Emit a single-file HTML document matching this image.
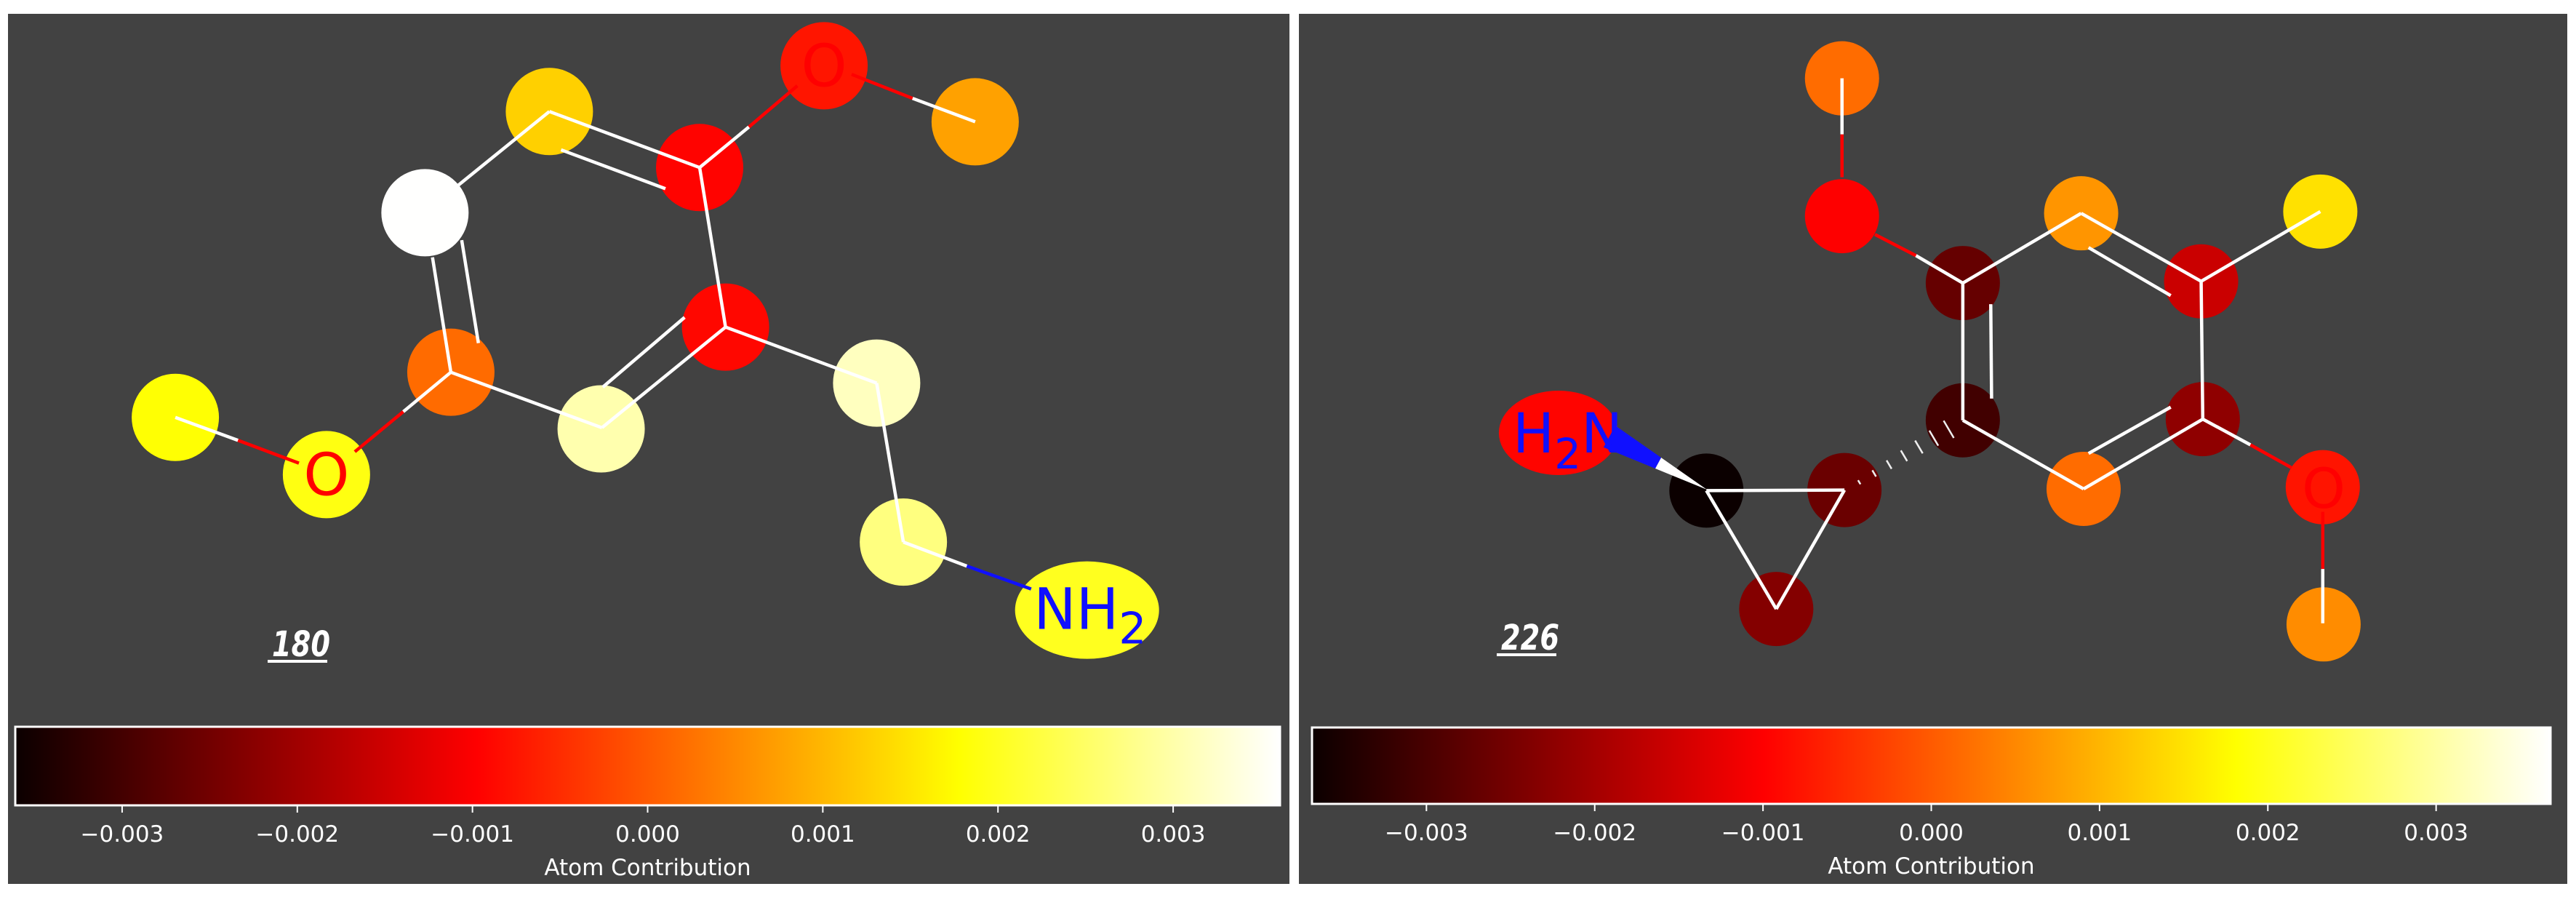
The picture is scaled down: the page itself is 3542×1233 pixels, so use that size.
<!DOCTYPE html>
<html><head><meta charset="utf-8"><style>
html,body{margin:0;padding:0;background:#fff;}
svg{display:block;}
text{font-family:"DejaVu Sans","Liberation Sans",sans-serif;}
</style></head><body>
<svg id="root" width="3542" height="1233" viewBox="0 0 3542 1233" xmlns="http://www.w3.org/2000/svg">
<defs>
<linearGradient id="hot" x1="0" x2="1" y1="0" y2="0">
<stop offset="0" stop-color="#0b0000"/><stop offset="0.365" stop-color="#ff0000"/>
<stop offset="0.746" stop-color="#ffff00"/><stop offset="1" stop-color="#ffffff"/>
</linearGradient>
</defs>
<rect x="11" y="19" width="1762" height="1196" fill="#424242"/>
<rect x="1786" y="19" width="1744" height="1196" fill="#424242"/>
<g id="gL"></g>
<g id="gR"></g>
</svg>
<script>
// ---- data: atom contribution values ----
const leftValues = [0.00127, -0.00094, -0.00075, 0.00076, 0.0036, -0.0009, 0.00018, 0.00303, 0.00315, 0.0018, 0.0019, 0.00269, 0.0020];
const rightValues = [0.00019, -0.0010, -0.00269, 0.00064, -0.00158, 0.00148, -0.00308, -0.00223, 0.00019, -0.00077, 0.00055, -0.0037, -0.00263, -0.00235, -0.00095];
const tickValues = [-0.003, -0.002, -0.001, 0.000, 0.001, 0.002, 0.003];
const tickLabels = ["\u22120.003", "\u22120.002", "\u22120.001", "0.000", "0.001", "0.002", "0.003"];
const leftRange = [-0.00361, 0.00361];
const rightRange = [-0.00368, 0.00368];

const NS = "http://www.w3.org/2000/svg";
function mk(parent, tag, attrs, txt){
  const e = document.createElementNS(NS, tag);
  for (const k in attrs) e.setAttribute(k, attrs[k]);
  if (txt !== undefined) e.textContent = txt;
  parent.appendChild(e); return e;
}
function hot(v, range){
  let f = (v - range[0]) / (range[1] - range[0]);
  f = Math.max(0, Math.min(1, f));
  const c = x => Math.round(255 * Math.max(0, Math.min(1, x)));
  const r = c(0.0416 + f / 0.365 * 0.9584), g = c((f - 0.365) / 0.381), b = c((f - 0.746) / 0.254);
  return `rgb(${r},${g},${b})`;
}

function drawPanel(g, cfg, values, range){
  const X = zx => cfg.ox + zx * cfg.sx, Y = zy => zy * 0.786;
  cfg.atoms.forEach((a, i) => {
    const el = mk(g, "ellipse", {cx: X(a[0]), cy: Y(a[1]), rx: a[2] || cfg.r, ry: a[3] || cfg.r, fill: hot(values[i], range)});
    
    
  });
  cfg.bonds.forEach(b => {
    const el = mk(g, "line", {x1: X(b[0]), y1: Y(b[1]), x2: X(b[2]), y2: Y(b[3]), stroke: b[4] || "#fff", "stroke-width": 4.5});
    
    
  });
  const [bx0, bx1, by0, by1] = cfg.bar;
  const sx = v => bx0 + (v - range[0]) / (range[1] - range[0]) * (bx1 - bx0);
  const cb = mk(g, "rect", {x: bx0, y: by0, width: bx1 - bx0, height: by1 - by0, fill: "url(#hot)", stroke: "#fff", "stroke-width": 3});
  
  
  tickValues.forEach((v, i) => {
    const t = mk(g, "line", {x1: sx(v), y1: by1, x2: sx(v), y2: by1 + 10, stroke: "#fff", "stroke-width": 2});
    
    
    const l = mk(g, "text", {x: sx(v), y: by1 + 50, fill: "#fff", "font-size": 31, "text-anchor": "middle"}, tickLabels[i]);
    
    
  });
  const ttl = mk(g, "text", {x: (bx0 + bx1) / 2, y: by1 + 96, fill: "#fff", "font-size": 31, "text-anchor": "middle"}, "Atom Contribution");
  
  
  const id = mk(g, "text", {x: cfg.idPos[0], y: cfg.idPos[1], fill: "#fff", "font-size": 48, "font-weight": "bold", "font-style": "italic", "font-family": "Liberation Sans, sans-serif", textLength: 80, lengthAdjust: "spacingAndGlyphs"}, cfg.id);
  
  
  mk(g, "rect", {x: cfg.idPos[0] - 6, y: cfg.idPos[1] + 5, width: 82, height: 4, fill: "#fff"});
  return {X, Y};
}

// ---------- left molecule ----------
const gL = document.getElementById("gL");
const L = drawPanel(gL, {
  ox: 0, sx: 1.148, r: 60, id: "180", idPos: [374, 902], bar: [21, 1760, 999, 1107],
  atoms: [[658,195],[838,293],[987,115,0,0,'o'],[1168,213],[509,372],[869,572],[540,651],[720,750],[1050,670],[210,730],[391,830,0,0,'o'],[1082,948],[1302,1067,99,67,'n']],
  bonds: [[658,195,838,293],[672,262,797,330],[658,195,548,325],[518,450,540,651],[553,420,573,600],[838,293,869,572],
          [869,572,721,748],[820,555,722,677],[721,748,540,651],
          [838,293,897,222],[897,222,955,150,"#f00"],[1020,130,1093,172,"#f00"],[1093,172,1168,213],
          [540,651,483,720],[483,720,425,790,"#f00"],[358,810,285,770,"#f00"],[285,770,210,730],
          [869,572,1050,670],[1050,670,1082,948],[1082,948,1158,990],[1158,990,1235,1030,"#1010ff"]]
}, leftValues, leftRange);
mk(gL, "text", {x: L.X(987), y: L.Y(115) + 28, fill: "#ff0000", "font-size": 80, "text-anchor": "middle"}, "O");
mk(gL, "text", {x: L.X(391), y: L.Y(830) + 28, fill: "#ff0000", "font-size": 80, "text-anchor": "middle"}, "O");
const nh = mk(gL, "text", {x: L.X(1238), y: L.Y(1067) + 26, fill: "#1010ff", "font-size": 78}, "NH");

mk(nh, "tspan", {dy: 20, "font-size": 60}, "2");

// ---------- right molecule ----------
const gR = document.getElementById("gR");
const R = drawPanel(gR, {
  ox: 1770, sx: 1.130, r: 51, id: "226", idPos: [2064, 893], bar: [1804, 3507, 1000, 1105],
  atoms: [[675,137],[675,378,0,0,'o'],[822,495],[966,373],[1112,492],[1257,370],[822,735],[1114,733],[969,855],[1260,852,0,0,'o'],[1261,1092],[510,858],[678,857],[595,1065],[330,757,82,58,'n']],
  bonds: [[675,137,675,235],[675,235,675,310,"#f00"],[715,410,765,447,"#f00"],[765,447,822,495],
          [822,495,966,373],[966,373,1112,492],[975,433,1075,517],[1112,492,1114,733],[1114,733,969,855],[975,793,1075,712],
          [969,855,822,735],[822,735,822,495],[856,532,857,697],[1112,492,1257,370],
          [1114,733,1172,778],[1172,778,1222,818,"#f00"],[1260,895,1260,995,"#f00"],[1260,995,1260,1090],
          [510,858,678,857],[678,857,595,1065],[595,1065,510,858]]
}, rightValues, rightRange);
for (let k = 1; k <= 7; k++){
  const t = k / 8, x0 = 2536, y0 = 675, x1 = 2700, y1 = 578;
  const cx = x0 + (x1 - x0) * t, cy = y0 + (y1 - y0) * t;
  const len = 3 + t * 28, dx = (y1 - y0), dy = -(x1 - x0), n = Math.hypot(dx, dy);
  const d = mk(gR, "line", {x1: cx - dx / n * len / 2, y1: cy - dy / n * len / 2, x2: cx + dx / n * len / 2, y2: cy + dy / n * len / 2, stroke: "#eee", "stroke-width": 2.5});
  
  
}
const wx0 = 2347, wy0 = 673, wx1 = 2213, wy1 = 600;
const wdx = wy1 - wy0, wdy = -(wx1 - wx0), wn = Math.hypot(wdx, wdy), hw = 17;
const mx = (wx0 + wx1) / 2, my = (wy0 + wy1) / 2;
const w1 = mk(gR, "polygon", {points: `${wx0},${wy0} ${mx + wdx/wn*hw/2},${my + wdy/wn*hw/2} ${mx - wdx/wn*hw/2},${my - wdy/wn*hw/2}`, fill: "#fff"});

const w2 = mk(gR, "polygon", {points: `${mx + wdx/wn*hw/2},${my + wdy/wn*hw/2} ${wx1 + wdx/wn*hw},${wy1 + wdy/wn*hw} ${wx1 - wdx/wn*hw},${wy1 - wdy/wn*hw} ${mx - wdx/wn*hw/2},${my - wdy/wn*hw/2}`, fill: "#1010ff"});

const hn = mk(gR, "text", {x: 2080, y: 622, fill: "#1010ff", "font-size": 76}, "H");

mk(hn, "tspan", {dy: 22, "font-size": 58}, "2");
mk(hn, "tspan", {dy: -22}, "N");
mk(gR, "text", {x: 3195, y: 698, fill: "#ff0000", "font-size": 76, "text-anchor": "middle"}, "O");
</script>
</body></html>
